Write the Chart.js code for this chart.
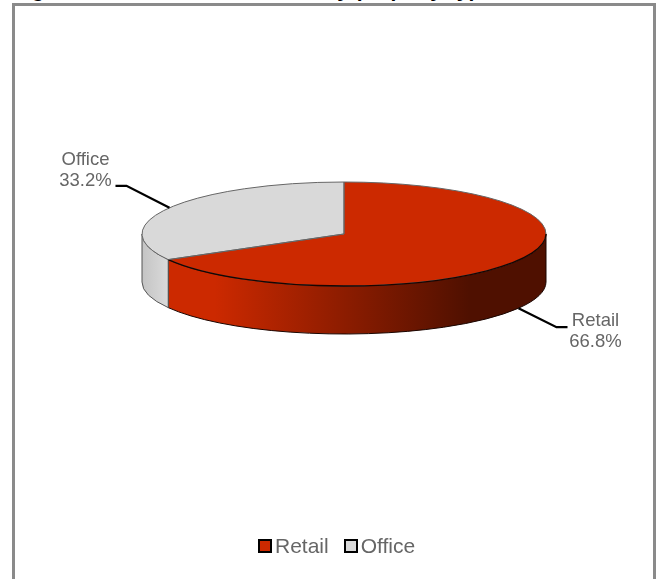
<!DOCTYPE html>
<html>
<head>
<meta charset="utf-8">
<title>Portfolio breakdown by property type</title>
<script src="https://cdn.jsdelivr.net/npm/chart.js@4"></script>
<style>
    html, body { margin: 0; padding: 0; background: #fff; width: 658px; height: 579px; overflow: hidden; }
    body { position: relative; font-family: "Liberation Sans", Arial, sans-serif; }
    #heading { position: absolute; left: 13px; top: -21px; font-size: 21px; line-height: 21px; font-weight: bold; word-spacing: 2px; color: #000; white-space: nowrap; }
    #frame { position: absolute; left: 12px; top: 3px; width: 638px; height: 600px; border: 3px solid #8a8a8a; border-bottom: 0; }
    #chart { position: absolute; left: 0; top: 0; }
    #legend { position: absolute; left: 258px; top: 534px; display: flex; align-items: center; height: 24px; font-size: 21px; color: #666; }
    #legend span.box { display: inline-block; box-sizing: border-box; width: 14px; height: 14px; border: 2.5px solid #000; margin-right: 3px; }
    #legend span.item { display: flex; align-items: center; margin-right: 15px; }
</style>
</head>
<body>
<div id="heading">Figure 4: Portfolio breakdown by property type</div>
<div id="frame"></div>
<canvas id="chart" width="658" height="579"></canvas>
<div id="legend"></div>
<script>
const categories = ['Retail', 'Office'];
const shares = [66.8, 33.2];
const sliceColors = ['#cc2900', '#d9d9d9'];

// the pie is flattened to an ellipse and given a wall, Chart.js only knows flat circles
const flatten = 52 / 202;
const centerY = 234;
const wallDepth = 48;

// where the leader line goes after it leaves the slice, and where its text sits
const leaders = [
    { dx: 38, dy: 19, run: 11, textDx: 28, textDy: -6 },
    { dx: -43, dy: -22, run: -11, textDx: -30, textDy: -26 }
];

function wallFill(ctx, index, arc) {
    const left = arc.x - arc.outerRadius;
    const width = arc.outerRadius * 2;
    const grad = ctx.createLinearGradient(left, 0, left + width, 0);
    if (index === 0) {
        grad.addColorStop(0.18, '#cc2900');
        grad.addColorStop(0.81, '#4f1000');
        grad.addColorStop(1, '#4f1000');
    } else {
        grad.addColorStop(0, '#c4c4c4');
        grad.addColorStop(0.07, '#dcdcdc');
        grad.addColorStop(1, '#dcdcdc');
    }
    return grad;
}

const pie3d = {
    id: 'pie3d',
    beforeDatasetsDraw(chart) {
        const ctx = chart.ctx;
        const arcs = chart.getDatasetMeta(0).data;
        // wall: only the part of each slice that faces the viewer
        arcs.forEach((arc, i) => {
            const from = Math.max(arc.startAngle, 0);
            const to = Math.min(arc.endAngle, Math.PI);
            if (to <= from) return;
            const ry = arc.outerRadius * flatten;
            ctx.save();
            ctx.beginPath();
            ctx.ellipse(arc.x, centerY, arc.outerRadius, ry, 0, from, to);
            ctx.ellipse(arc.x, centerY + wallDepth, arc.outerRadius, ry, 0, to, from, true);
            ctx.closePath();
            ctx.fillStyle = wallFill(ctx, i, arc);
            ctx.fill();
            ctx.lineWidth = 1;
            ctx.strokeStyle = i === 0 ? '#1a0500' : '#555';
            ctx.stroke();
            ctx.restore();
        });
        ctx.save();
        const y0 = arcs[0].y;
        ctx.translate(0, centerY);
        ctx.scale(1, flatten);
        ctx.translate(0, -y0);
    },
    afterDatasetsDraw(chart) {
        const ctx = chart.ctx;
        ctx.restore();
        const arcs = chart.getDatasetMeta(0).data;
        arcs.forEach((arc, i) => {
            const rx = arc.outerRadius;
            const ry = rx * flatten;
            ctx.save();
            ctx.beginPath();
            ctx.moveTo(arc.x, centerY);
            ctx.ellipse(arc.x, centerY, rx, ry, 0, arc.startAngle, arc.endAngle);
            ctx.closePath();
            ctx.lineWidth = 1;
            ctx.strokeStyle = '#666';
            ctx.stroke();
            // the front rim of the red slice is nearly black
            if (i === 0) {
                ctx.beginPath();
                ctx.ellipse(arc.x, centerY, rx, ry, 0, 0, arc.endAngle);
                ctx.lineWidth = 1.3;
                ctx.strokeStyle = '#1a0500';
                ctx.stroke();
            }
            ctx.restore();
            drawLeader(ctx, arc, i);
        });
    }
};

function drawLeader(ctx, arc, i) {
    const mid = (arc.startAngle + arc.endAngle) / 2;
    const facing = Math.sin(mid) > 0;
    const x = arc.x + Math.cos(mid) * arc.outerRadius;
    const y = centerY + Math.sin(mid) * arc.outerRadius * flatten + (facing ? wallDepth : 0);
    const l = leaders[i];
    ctx.save();
    ctx.beginPath();
    ctx.moveTo(x, y);
    ctx.lineTo(x + l.dx, y + l.dy);
    ctx.lineTo(x + l.dx + l.run, y + l.dy);
    ctx.lineWidth = 2.3;
    ctx.strokeStyle = '#000';
    ctx.stroke();
    ctx.fillStyle = '#666';
    ctx.font = '18.5px "Liberation Sans", Arial, sans-serif';
    ctx.textAlign = 'center';
    ctx.textBaseline = 'middle';
    const tx = x + l.dx + l.run + l.textDx;
    const ty = y + l.dy + l.textDy;
    ctx.fillText(categories[i], tx, ty);
    ctx.fillText(shares[i].toFixed(1) + '%', tx, ty + 21);
    ctx.restore();
}

new Chart(document.getElementById('chart'), {
    type: 'pie',
    data: {
        labels: categories,
        datasets: [{
            data: shares,
            backgroundColor: sliceColors,
            borderWidth: 0
        }]
    },
    options: {
        responsive: false,
        animation: false,
        layout: { padding: { left: 142, right: 112, top: 0, bottom: 0 } },
        plugins: {
            legend: { display: false },
            tooltip: { enabled: false }
        }
    },
    plugins: [pie3d]
});

// legend is plain html, the canvas legend cannot put the text this close to its box
const legendEl = document.getElementById('legend');
categories.forEach((name, i) => {
    const item = document.createElement('span');
    item.className = 'item';
    const box = document.createElement('span');
    box.className = 'box';
    box.style.background = sliceColors[i];
    item.appendChild(box);
    item.appendChild(document.createTextNode(name));
    legendEl.appendChild(item);
});
</script>
</body>
</html>
